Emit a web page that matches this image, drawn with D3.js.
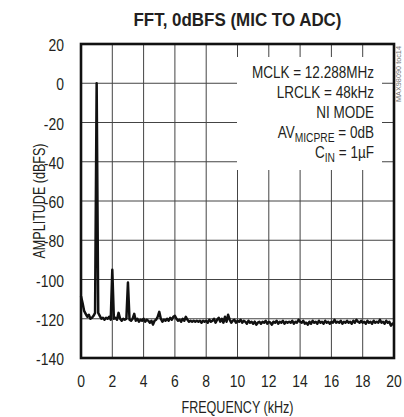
<!DOCTYPE html>
<html><head><meta charset="utf-8">
<script src="https://cdn.jsdelivr.net/npm/d3@7"></script>
<style>
body{margin:0;background:#fff;}
text{font-family:"Liberation Sans",Arial,sans-serif;fill:#231f20;}
</style></head>
<body><svg id="c" width="404" height="417"></svg>
<script>
const title = "FFT, 0dBFS (MIC TO ADC)";
const xLabel = "FREQUENCY (kHz)";
const yLabel = "AMPLITUDE (dBFS)";
const xTicks = [0,2,4,6,8,10,12,14,16,18,20];
const yTicks = [20,0,-20,-40,-60,-80,-100,-120,-140];
const binStartKHz = 0;
const binStepKHz = 0.1;
const amplitudeDb = [
-108.5,-112,-116,-117.5,-119,-118,-120,-119.5,-118.5,-117,
0,-117,-118.5,-120,-119.5,-120.5,-119.5,-120,-119,-120.5,
-95,-120,-119.5,-120.5,-117,-120,-121,-120,-120.5,-120,
-101.5,-120.5,-121,-120,-117.5,-121,-120,-121.5,-120.5,-121,
-120,-121.5,-120.5,-121,-122,-121,-123,-121,-120.5,-119,
-116.5,-120,-121.5,-120.5,-121,-120,-121,-119.5,-120.5,-119,
-118.5,-120,-121,-120.5,-121.5,-120,-121,-119,-120.5,-121.5,
-121,-121.5,-121,-121.5,-121,-121.5,-121,-122,-121,-121.5,
-121,-122,-120.5,-121.5,-121,-120,-122,-120.5,-119.5,-121.5,
-120,-122,-119,-121.5,-118,-120.5,-122,-121,-120.5,-122,
-121,-121.5,-120.5,-122,-121,-121.5,-122.5,-121,-122,-121.5,
-122.5,-121.5,-123,-122,-121.5,-122.5,-121.5,-122,-121,-122.5,
-121.5,-122,-123,-121.5,-122,-121,-122.5,-121.5,-122,-121,
-122.5,-121.5,-122,-121.5,-122,-121,-122.5,-121.5,-122,-120.5,
-121.5,-122,-121,-122.5,-122,-123,-121.5,-122.5,-121,-122,
-121.5,-122.5,-121,-122,-121.5,-122.5,-121,-122,-121.5,-122.5,
-121.5,-122,-120.5,-122,-121.5,-122,-121,-122.5,-121.5,-122,
-121,-122,-121.5,-122.5,-121,-122,-120.5,-121.5,-122,-121,
-122,-121.5,-122.5,-121,-122,-121.5,-122.5,-121,-122,-121.5,
-122,-120.5,-122,-121.5,-122.5,-121,-122,-121.5,-123.5,-122.5,
-123
];
const notes = [
  {main:"MCLK = 12.288MHz"},
  {main:"LRCLK = 48kHz"},
  {main:"NI MODE"},
  {main:"AV", sub:"MICPRE", tail:" = 0dB"},
  {main:"C", sub:"IN", tail:" = 1µF"}
];
const sideNote = "MAX98090 toc14";

const SX = 0.82; // condensed look
const svg = d3.select("#c");
const L=81, R=394, T=44, B=358;
const x = d3.scaleLinear().domain([0,20]).range([L,R]);
const y = d3.scaleLinear().domain([-140,20]).range([B,T]);

// grid
const g = svg.append("g");
g.selectAll("line.vx").data(xTicks.slice(1,-1)).join("line")
  .attr("x1",d=>x(d)).attr("x2",d=>x(d)).attr("y1",T).attr("y2",B)
  .attr("stroke","#444").attr("stroke-width",1);
g.selectAll("line.hy").data(yTicks.slice(1,-1)).join("line")
  .attr("y1",d=>y(d)).attr("y2",d=>y(d)).attr("x1",L).attr("x2",R)
  .attr("stroke","#444").attr("stroke-width",1);

// data
const pts = amplitudeDb.map((v,i)=>[binStartKHz+i*binStepKHz, v]);
svg.append("path").datum(pts)
  .attr("d", d3.line().x(d=>x(d[0])).y(d=>y(d[1])))
  .attr("fill","none").attr("stroke","#111").attr("stroke-width",2.5)
  .attr("stroke-linejoin","round");

// note box
svg.append("rect").attr("x",237).attr("y",57).attr("width",145).attr("height",113).attr("fill","#fff");
notes.forEach((n,i)=>{
  const t = svg.append("text").attr("transform",`translate(374,${78+i*20}) scale(${SX},1)`)
    .attr("text-anchor","end").attr("font-size",16.5);
  t.append("tspan").text(n.main);
  if(n.sub){
    t.append("tspan").text(n.sub).attr("font-size",12.5).attr("dy",3.5);
    t.append("tspan").text(n.tail).attr("dy",-3.5);
  }
});

// frame
svg.append("rect").attr("x",L).attr("y",T).attr("width",R-L).attr("height",B-T)
  .attr("fill","none").attr("stroke","#111").attr("stroke-width",2.6);

// tick labels
svg.selectAll("text.xt").data(xTicks).join("text")
  .attr("transform",d=>`translate(${x(d)},387) scale(${SX},1)`)
  .attr("text-anchor","middle").attr("font-size",17).text(d=>d);
svg.selectAll("text.yt").data(yTicks).join("text")
  .attr("transform",d=>`translate(64,${y(d)+7}) scale(${SX},1)`)
  .attr("text-anchor","end").attr("font-size",17).text(d=>d);

svg.append("text").attr("x",(L+R)/2).attr("y",413).attr("text-anchor","middle").attr("font-size",16)
  .attr("textLength",112).attr("lengthAdjust","spacingAndGlyphs").text(xLabel);
svg.append("text").attr("transform",`translate(45,${(T+B)/2}) rotate(-90)`).attr("text-anchor","middle").attr("font-size",16)
  .attr("textLength",115).attr("lengthAdjust","spacingAndGlyphs").text(yLabel);
svg.append("text").attr("x",(L+R)/2).attr("y",26).attr("text-anchor","middle").attr("font-size",18).attr("font-weight","bold")
  .attr("textLength",208).attr("lengthAdjust","spacingAndGlyphs").text(title);
svg.append("text").attr("transform","translate(401,102) rotate(-90)").attr("font-size",7.5).style("fill","#777")
  .attr("textLength",56).attr("lengthAdjust","spacingAndGlyphs").text(sideNote);
</script></body></html>
